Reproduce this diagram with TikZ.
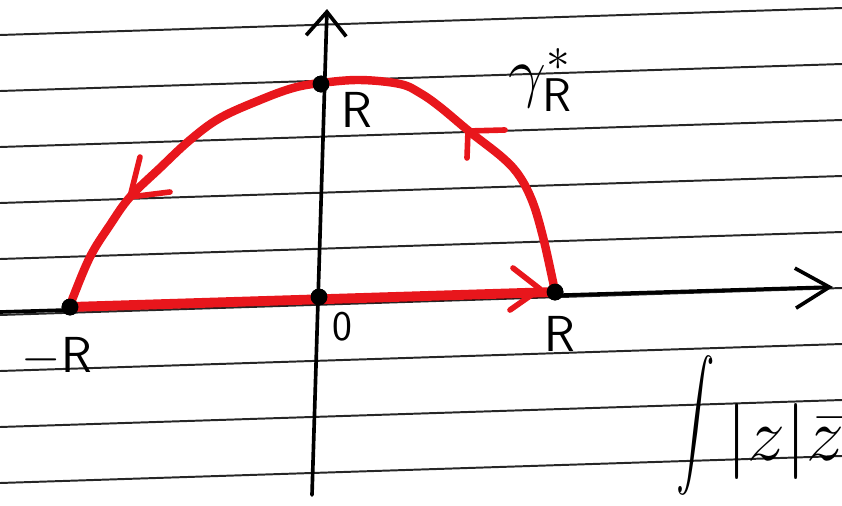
\RequirePackage{fix-cm}
\documentclass[tikz,border=0pt]{standalone}
\usepackage{amsmath}
\usepackage{graphicx}
\usepackage{tikz}
\usetikzlibrary{arrows.meta}

\definecolor{penred}{RGB}{232,22,28}
\tikzset{
  ruled/.style={draw=black!85, line width=1.4pt},
  axis/.style={draw=black, line width=2.6pt, line cap=round},
  redpath/.style={draw=penred, line width=6pt, line cap=round, line join=round},
  barb/.style={draw=penred, line width=4pt, line cap=round, line join=round},
  dot/.style={circle, fill=black, inner sep=0pt, minimum size=0.42cm},
  lbl/.style={font=\fontsize{36}{40}\selectfont\sffamily, inner sep=0pt},
}

\begin{document}
\begin{tikzpicture}[x=0.025cm, y=-0.025cm]
    \clip (0,0) rectangle (842,506);
    % ruled paper
    \foreach \i in {0,...,8}
      \draw[ruled] (0,35+56*\i) -- (842,8+56*\i);

    % axes
    \coordinate (xstart) at (0,312);
    \coordinate (xend) at (833,287);
    \coordinate (ybot) at (312,495);
    \coordinate (ytop) at (327,9);
    \draw[axis, -{Straight Barb[length=0.85cm, width=1cm]}] (xstart) -- (xend);
    \draw[axis, -{Straight Barb[length=0.6cm, width=1cm]}] (ybot) -- (ytop);

    % points on the contour
    \node (mR) [dot] at (70,307) {};
    \node (orig) [dot] at (319,297) {};
    \node (top) [dot] at (321,84) {};
    \node (pR) [dot] at (555,292) {};

    % contour
    \draw[redpath, line width=7pt] (mR.center) -- (pR.center);
    \draw[redpath] plot[smooth, tension=0.6] coordinates {
      (555,292) (552,277) (543,237) (533,203) (520,177) (503,158)
      (470,132) (440,107) (420,93) (400,84) (360,80) (321,83)
      (293,88) (260,100) (220,118) (190,140) (160,168) (130,197)
      (110,225) (90,257) (72,300) (70,307)};
    \draw[barb] (140,157) -- (130,197) -- (170,192);
    \draw[barb] (467,158) -- (468,131) -- (505,130);
    \draw[barb] (513,268) -- (540,289) -- (510,310);

    % dots on top of the contour
    \foreach \p in {mR,orig,top,pR}
      \fill (\p.center) circle (0.21cm);

    % labels
    \node (Rtop) [lbl] at (357,110) {R};
    \node (Rright) [lbl] at (560,334) {R};
    \node (Rleft) [lbl] at (57,357) {$-$R};
    \node (zero) [lbl, font=\fontsize{30}{34}\selectfont\sffamily] at (342,327) {0};
    \node (gam) [lbl, font=\fontsize{48}{52}\selectfont] at (540,80) {$\gamma^{*}_{\mathsf{R}}$};
    \node (int) [lbl, font=\fontsize{42}{46}\selectfont] at (696,425) {\scalebox{1.1}[1.8]{$\displaystyle\int$}};
    \node (absz) [lbl, font=\fontsize{54}{60}\selectfont, anchor=base west] at (726,460) {$|z|\bar{z}$};
\end{tikzpicture}
\end{document}
